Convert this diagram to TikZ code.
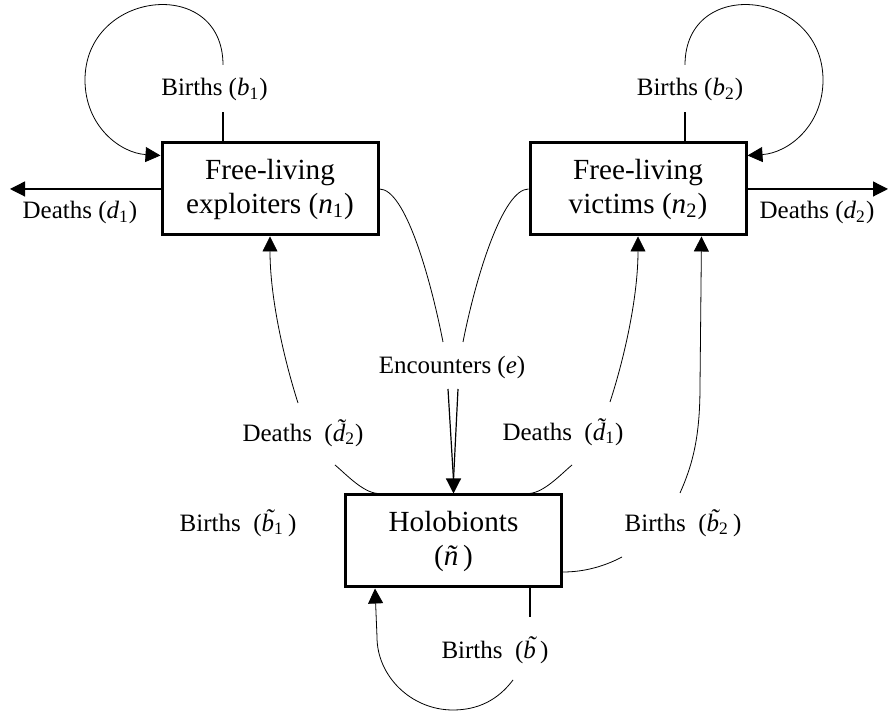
\documentclass[tikz,border=0pt]{standalone}
\usepackage{fontspec}
\setmainfont{Liberation Serif}
\usetikzlibrary{arrows.meta,calc}
\newcommand\tld[1]{{\accent"02DC #1}}
\tikzset{%
        >={Triangle[length=7.5pt,width=7.5pt]},
        line width=0.6pt
}
\tikzstyle{pop}=[
    draw = black,
    line width = 1.5pt,
    fill = white,
    align = center,
    inner sep = 0pt,
    minimum width = 108pt,
    minimum height = 46pt,
    font = \fontsize{14.6pt}{17pt}\selectfont
]
\tikzstyle{rate}=[
    inner sep = 0pt,
    font = \fontsize{12.5pt}{15pt}\selectfont
]
\tikzstyle{every edge}=[
    draw = black,
    line width = 0.6pt
]

\begin{document}
\begin{tikzpicture}[x=0.5pt,y=0.5pt]
        \useasboundingbox (0,0) rectangle (889,716);
        \node[pop] (n1) at (270,527) {Free-living\\exploiters (\textit{n}\textsubscript{1})};
        \node[pop] (n2) at (638,527) {Free-living\\victims (\textit{n}\textsubscript{2})};
        \node[pop] (hb) at (453.5,175) {Holobionts\\(\textit{\tld{n}}\,)};
        \node[rate] (b1) at (214.5,626) {Births (\textit{b}\textsubscript{1})};
        \node[rate] (d1) at (80,503) {Deaths (\textit{d}\textsubscript{1})};
        \node[rate] (b2) at (690,626) {Births (\textit{b}\textsubscript{2})};
        \node[rate] (d2) at (817,503) {Deaths (\textit{d}\textsubscript{2})};
        \node[rate] (enc) at (452,349) {Encounters (\textit{e})};
        \node[rate] (dt2) at (303,283) {Deaths~ (\textit{\tld{d}}\textsubscript{2})};
        \node[rate] (dt1) at (563,284) {Deaths~ (\textit{\tld{d}}\textsubscript{1})};
        \node[rate] (bt1) at (238,193) {Births~ (\textit{\tld{b}}\textsubscript{1}\,)};
        \node[rate] (bt2) at (683,193) {Births~ (\textit{\tld{b}}\textsubscript{2}\,)};
        \node[rate] (bt) at (495,66) {Births~ (\textit{\tld{b}}\,)};
        \coordinate (b1lo) at (223,604);
        \coordinate (b1hi) at (223,651);
        \coordinate (b2lo) at (685,604);
        \coordinate (b2hi) at (685,651);
        \coordinate (d1end) at (10,527);
        \coordinate (d2end) at (888,527);
        \coordinate (encL) at (443,374);
        \coordinate (encR) at (463,374);
        \coordinate (encLb) at (448,327);
        \coordinate (encRb) at (458,327);
        \coordinate (encM) at (453.5,236);
        \coordinate (dt2hi) at (298,313);
        \coordinate (dt2lo) at (335,251);
        \coordinate (dt1hi) at (610,314);
        \coordinate (dt1lo) at (572,251);
        \coordinate (bt2lo) at (622,159);
        \coordinate (bt2hi) at (680,223);
        \coordinate (btlo) at (530,99);
        \coordinate (bthi) at (513,36);
      \path
      (n1.west) edge[->] (d1end)
      (n2.east) edge[->] (d2end)
      (n1.north -| b1lo) edge (b1lo)
      (n2.north -| b2lo) edge (b2lo)
      (hb.south -| btlo) edge (btlo)
      (encLb) edge (encM)
      (encRb) edge (encM)
      (encM) edge[->] (hb.north)
      ;
      \draw[->] (b1hi) .. controls (223,741) and (85,726) .. (85,636)
            .. controls (85,590) and (120,563) .. ($(n1.north west)+(0,-14)$);
      \draw[->] (b2hi) .. controls (685,741) and (823,726) .. (823,636)
            .. controls (823,590) and (788,563) .. ($(n2.north east)+(0,-14)$);
      \draw (n1.east) .. controls (405,527) and (430,440) .. (encL);
      \draw (n2.west) .. controls (503,527) and (476,440) .. (encR);
      \draw[->] (dt2hi) .. controls (283,360) and (270,420) .. (n1.south);
      \draw ($(hb.north west)+(37,0)$) .. controls (365,221) and (347,241) .. (dt2lo);
      \draw[->] (dt1hi) .. controls (625,360) and (638,420) .. (n2.south);
      \draw ($(hb.north east)+(-37,0)$) .. controls (542,221) and (560,241) .. (dt1lo);
      \draw ($(hb.east)+(0,-31)$) .. controls (585,144) and (605,150) .. (bt2lo);
      \draw[->] (bt2hi) .. controls (693,252) and (700,280) .. (700,330)
            -- ($(n2.south east)+(-46,0)$);
      \draw[->] (bthi) .. controls (498,16) and (478,6) .. (453,6)
            .. controls (411,6) and (377,40) .. (377,79) -- ($(hb.south west)+(31,0)$);
    \end{tikzpicture}
\end{document}
